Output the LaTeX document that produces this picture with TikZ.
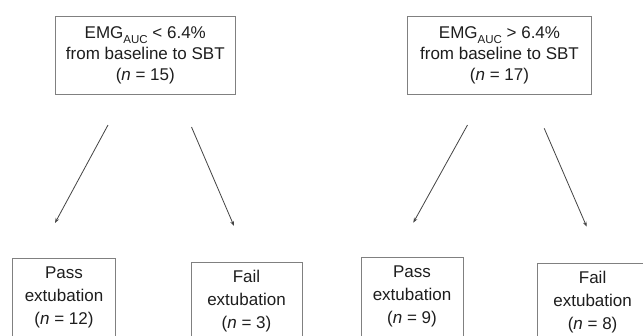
\documentclass[tikz,border=0pt]{standalone}
\usepackage{fontspec}
\setmainfont{Liberation Sans}
\usetikzlibrary{arrows.meta}
\definecolor{txtc}{HTML}{1E1E1E}
\definecolor{boxc}{HTML}{808080}
\definecolor{arrc}{HTML}{444444}
\newcommand{\subauc}{\raisebox{-5pt}{\fontsize{11.5}{12}\selectfont AUC}}
\newcommand{\botbox}[2]{\parbox[t][100pt][t]{#1}{\centering\fontsize{17}{23}\selectfont\rule{0pt}{20pt}#2}}
\tikzset{
  topbox/.style={draw=boxc, line width=0.9pt, text=txtc, align=center,
    font=\fontsize{17}{21}\selectfont, inner sep=0pt, anchor=center},
  lowbox/.style={draw=boxc, line width=0.9pt, text=txtc, inner sep=0pt, anchor=north},
  conn/.style={draw=arrc, line width=0.8pt, -{Stealth[length=5pt,width=3.6pt]}}
}
\begin{document}
\begin{tikzpicture}[x=1pt,y=-1pt]
\useasboundingbox (0,0) rectangle (643,335);
\clip (0,0) rectangle (643,335);
\fill[white] (0,0) rectangle (643,335);
\node[topbox, minimum width=180.7pt, minimum height=78.3pt] (top1) at (145.3,55.2)
  {EMG\subauc{} < 6.4\%\\from baseline to SBT\\(\textit{n} = 15)};
\node[topbox, minimum width=184pt, minimum height=78.3pt] (top2) at (499.5,55.2)
  {EMG\subauc{} > 6.4\%\\from baseline to SBT\\(\textit{n} = 17)};
\node[lowbox] (pass1) at (64,257.7) {\botbox{102.6pt}{Pass\\extubation\\(\textit{n} = 12)}};
\node[lowbox] (fail1) at (246.5,261.7) {\botbox{111pt}{Fail\\extubation\\(\textit{n} = 3)}};
\node[lowbox] (pass2) at (412,257) {\botbox{102pt}{Pass\\extubation\\(\textit{n} = 9)}};
\node[lowbox] (fail2) at (592.6,262.7) {\botbox{111pt}{Fail\\extubation\\(\textit{n} = 8)}};
\coordinate (s1) at (108,125);   \coordinate (e1) at (55,223);
\coordinate (s2) at (191.5,127); \coordinate (e2) at (234,226);
\coordinate (s3) at (467.5,125); \coordinate (e3) at (413.3,222.7);
\coordinate (s4) at (544.2,128.3); \coordinate (e4) at (586.7,226.7);
\draw[conn] (s1) -- (e1);
\draw[conn] (s2) -- (e2);
\draw[conn] (s3) -- (e3);
\draw[conn] (s4) -- (e4);
\end{tikzpicture}
\end{document}
